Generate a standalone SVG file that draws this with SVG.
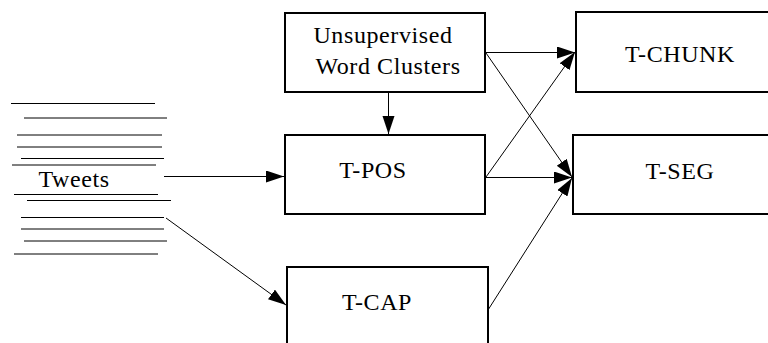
<svg xmlns="http://www.w3.org/2000/svg" width="768" height="343" viewBox="0 0 768 343">
<style>
.box{fill:#fff;stroke:#000;stroke-width:2}
.c{stroke:#000;stroke-width:1;fill:none;marker-end:url(#ah)}
.tw{stroke:#000;stroke-width:1}
</style>
<defs>
<marker id="ah" markerUnits="userSpaceOnUse" markerWidth="19" markerHeight="13" refX="18" refY="6" orient="auto" viewBox="0 0 19 13">
<path d="M0,0 L18,6 L0,12 z" fill="#000"/>
</marker>
</defs>
<rect width="768" height="343" fill="#fff"/>
<g id="tweets">
<line class="tw" x1="11" y1="103.5" x2="155" y2="103.5"/>
<line class="tw" x1="24" y1="118" x2="167" y2="118"/>
<line class="tw" x1="17" y1="135" x2="162" y2="135"/>
<line class="tw" x1="17" y1="147" x2="162" y2="147"/>
<line class="tw" x1="21" y1="158.5" x2="164" y2="158.5"/>
<line class="tw" x1="12" y1="165" x2="156" y2="165"/>
<text x="74" y="187" font-family="Liberation Serif" font-size="24" text-anchor="middle" letter-spacing="0.6">Tweets</text>
<line class="tw" x1="14" y1="194.5" x2="158" y2="194.5"/>
<line class="tw" x1="27" y1="200.5" x2="171" y2="200.5"/>
<line class="tw" x1="21" y1="217.5" x2="164" y2="217.5"/>
<line class="tw" x1="21" y1="229" x2="164" y2="229"/>
<line class="tw" x1="24" y1="241" x2="167" y2="241"/>
<line class="tw" x1="14" y1="254" x2="158" y2="254"/>
</g>
<g id="clusters">
<rect class="box" x="285" y="13" width="200" height="79"/>
<text x="383" y="43" font-family="Liberation Serif" font-size="24" text-anchor="middle" letter-spacing="0.6">Unsupervised</text>
<text x="388" y="74" font-family="Liberation Serif" font-size="24" text-anchor="middle" letter-spacing="0.6">Word Clusters</text>
</g>
<g id="tpos">
<rect class="box" x="285" y="135" width="200" height="79"/>
<text x="373" y="178" font-family="Liberation Serif" font-size="24" text-anchor="middle" letter-spacing="0.6">T-POS</text>
</g>
<g id="tcap">
<rect class="box" x="287" y="267" width="201" height="90"/>
<text x="377" y="310" font-family="Liberation Serif" font-size="24" text-anchor="middle" letter-spacing="0.6">T-CAP</text>
</g>
<g id="tchunk">
<rect class="box" x="576" y="12" width="220" height="80"/>
<text x="680" y="62" font-family="Liberation Serif" font-size="24" text-anchor="middle" letter-spacing="0.6">T-CHUNK</text>
</g>
<g id="tseg">
<rect class="box" x="573" y="135" width="220" height="79"/>
<text x="680" y="179" font-family="Liberation Serif" font-size="24" text-anchor="middle" letter-spacing="0.6">T-SEG</text>
</g>
<g id="connectors">
<line class="c" x1="388.5" y1="92" x2="388.5" y2="134"/>
<line class="c" x1="164" y1="176.5" x2="284" y2="176.5"/>
<line class="c" x1="166" y1="218" x2="286" y2="305"/>
<line class="c" x1="486" y1="52.5" x2="575" y2="52.5"/>
<line class="c" x1="486" y1="53" x2="572" y2="177"/>
<line class="c" x1="486" y1="177.5" x2="572" y2="177.5"/>
<line class="c" x1="486" y1="177" x2="575" y2="52"/>
<line class="c" x1="488" y1="310" x2="572" y2="178"/>
</g>
</svg>
